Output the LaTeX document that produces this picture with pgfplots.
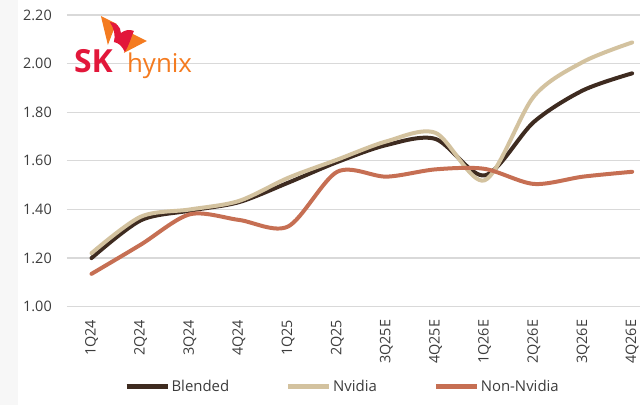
\documentclass[border=0pt]{standalone}
\usepackage{pgfplots}
\pgfplotsset{compat=1.18}
\usepackage{fontspec}
\setmainfont{Open Sans}
\definecolor{blended}{HTML}{3E2B20}
\definecolor{nvidia}{HTML}{D3C29F}
\definecolor{nonnv}{HTML}{C66F53}
\definecolor{gridc}{HTML}{D9D9D9}
\definecolor{txt}{HTML}{3C3C3C}
\definecolor{skred}{HTML}{E2173A}
\definecolor{skorange}{HTML}{F47B20}
\begin{document}
\begin{tikzpicture}
\begin{scope}[x=1bp,y=-1bp]
\useasboundingbox (0,0) rectangle (641,405);
\fill[black!3] (0,0) rectangle (18,405);
\end{scope}
\begin{axis}[
  at={(67bp,-307bp)}, anchor=south west,
  width=574bp, height=292bp, scale only axis,
  xmin=-0.5, xmax=11.167, ymin=1, ymax=2.2,
  clip=false,
  axis line style={draw=none},
  major tick length=0pt,
  ymajorgrids, grid style={gridc, line width=1.3bp},
  ytick={1,1.2,1.4,1.6,1.8,2,2.2},
  yticklabel style={/pgf/number format/fixed, /pgf/number format/fixed zerofill, /pgf/number format/precision=2, /pgf/number format/assume math mode=true, anchor=east, inner sep=0pt},
  yticklabel shift=15bp,
  xtick={0,...,11},
  xticklabels={1Q24,2Q24,3Q24,4Q24,1Q25,2Q25,3Q25E,4Q25E,1Q26E,2Q26E,3Q26E,4Q26E},
  xticklabel style={rotate=90, anchor=east, inner sep=0pt},
  xticklabel shift=13bp,
  tick label style={font=\fontsize{14.5}{16}\selectfont, text=txt},
  every axis plot/.append style={smooth, tension=0.5, line width=4bp, no marks, line cap=round},
  legend columns=3,
  legend style={at={(0.48,-0.274)}, anchor=center, draw=none, fill=none,
    font=\fontsize{15}{17}\selectfont, text=txt, inner sep=0pt,
    nodes={inner sep=1.5bp},
    /tikz/every even column/.append style={column sep=55bp}},
  legend image code/.code={\draw[#1, line width=5bp, line cap=butt] (0bp,0bp) -- (41bp,0bp);},
]
\addplot[blended] coordinates {(0,1.20)(1,1.355)(2,1.395)(3,1.43)(4,1.51)(5,1.595)(6,1.665)(7,1.69)(8,1.54)(9,1.76)(10,1.89)(11,1.96)};
\addlegendentry{Blended}
\addplot[nvidia] coordinates {(0,1.22)(1,1.37)(2,1.40)(3,1.435)(4,1.53)(5,1.605)(6,1.68)(7,1.715)(8,1.52)(9,1.865)(10,2.007)(11,2.087)};
\addlegendentry{Nvidia}
\addplot[nonnv] coordinates {(0,1.135)(1,1.255)(2,1.38)(3,1.357)(4,1.33)(5,1.555)(6,1.535)(7,1.565)(8,1.567)(9,1.505)(10,1.535)(11,1.555)};
\addlegendentry{Non-Nvidia}
\end{axis}
\begin{scope}[x=1bp,y=-1bp]
% logo butterfly
\fill[skorange] (101,16) -- (117,24) .. controls (113,30) and (111,38) .. (108,45) -- cycle;
\fill[skorange] (131,33) -- (147,41) -- (124,53) .. controls (127,46) and (129,39) .. cycle;
\fill[skred] (110,22) .. controls (116,22) and (121,27) .. (121,33) .. controls (125,30) and (130,29) .. (134,31) .. controls (131,38) and (129,46) .. (125,52) .. controls (122,46) and (119,43) .. (114,42) .. controls (116,36) and (114,28) .. cycle;
\node[anchor=base west, inner sep=0pt, text=skred, font=\fontsize{32}{32}\bfseries\selectfont] at (74,73) {SK};
\node[anchor=base west, inner sep=0pt, text=skorange, font=\fontsize{26}{26}\selectfont] at (127,73) {hynix};
\end{scope}
\end{tikzpicture}
\end{document}
